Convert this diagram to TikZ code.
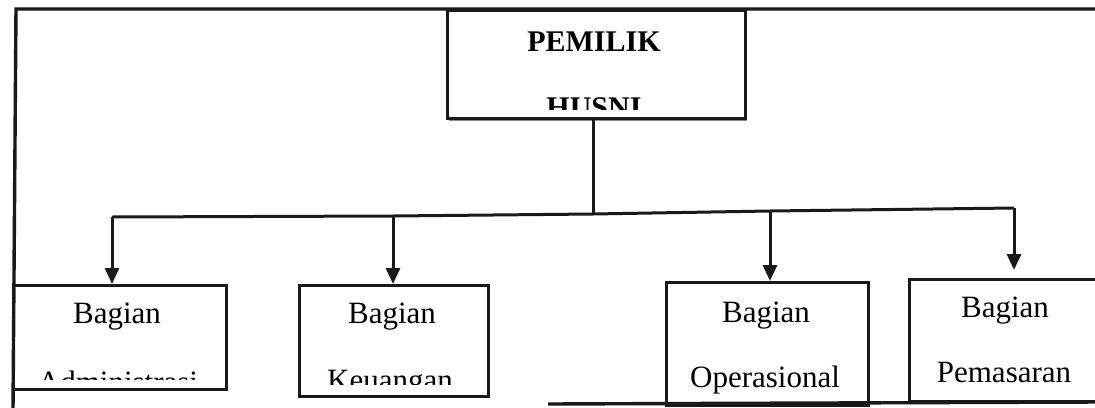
\documentclass[tikz,border=0pt]{standalone}
\usepackage{fontspec}
\setmainfont{Liberation Serif}
\usetikzlibrary{arrows.meta}
\begin{document}
\begin{tikzpicture}[x=1pt,y=-1pt,
  box/.style={draw=black!90, line width=3pt, fill=none, inner sep=0pt},
  frame/.style={draw=black!90, line width=3.4pt},
  conn/.style={draw=black!90, line width=3pt},
  arr/.style={conn, -{Triangle[width=14pt,length=16pt]}},
  lbl/.style={inner sep=0pt, anchor=base, font=\fontsize{31}{37}\selectfont},
  blbl/.style={inner sep=0pt, anchor=base, font=\fontsize{30}{36}\selectfont\bfseries}]
\useasboundingbox (0,0) rectangle (1095,407);
% outer frame
\draw[frame] (1100,9) -- (16,9) -- (13,410);
\draw[frame] (548,404) -- (1100,402);
% owner box with slight shadow
\fill[black!45] (449,116) rectangle (747,121);
\node[box, fill=white, minimum width=298pt, minimum height=108pt, anchor=north west] (boss) at (446,9) {};
\node[blbl] (pemilik) at (594,51) {PEMILIK};
\begin{scope}
  \clip (447,60) rectangle (743,109);
  \node[blbl] (husni) at (594,117) {HUSNI};
\end{scope}
% lower boxes
\node[box, minimum width=213pt, minimum height=104pt, anchor=north west] (adm) at (12,284) {};
\node[box, minimum width=189pt, minimum height=111pt, anchor=north west] (keu) at (298,284) {};
\node[box, minimum width=202pt, minimum height=123pt, anchor=north west] (ops) at (665,281) {};
\node[box, minimum width=200pt, minimum height=122pt, anchor=north west] (pem) at (908,278) {};
% labels
\node[lbl] (adm1) at (117,323) {Bagian};
\begin{scope}
  \clip (14,340) rectangle (222,379);
  \node[lbl] (adm2) at (118,392.5) {Administrasi};
\end{scope}
\node[lbl] (keu1) at (392,323) {Bagian};
\begin{scope}
  \clip (300,340) rectangle (485,384);
  \node[lbl] (keu2) at (390,390.5) {Keuangan};
\end{scope}
\node[lbl] (ops1) at (766,322) {Bagian};
\node[lbl] (ops2) at (765,387) {Operasional};
\node[lbl] (pem1) at (1005,317) {Bagian};
\node[lbl] (pem2) at (1004,382) {Pemasaran};
% connectors
\coordinate (top) at (593,214);
\coordinate (b1) at (112,217);
\coordinate (b2) at (393,216);
\coordinate (b3) at (770,211);
\coordinate (b4) at (1014,208);
\draw[conn] (boss.south -| top) -- (top);
\draw[conn] (b1) -- (b2) -- (top) -- (b3) -- (b4);
\draw[arr] (b1) -- (b1 |- adm.north);
\draw[arr] (b2) -- (b2 |- keu.north);
\draw[arr] (b3) -- (b3 |- ops.north);
\draw[arr] (b4) -- ([yshift=8pt]b4 |- pem.north);
\end{tikzpicture}
\end{document}
